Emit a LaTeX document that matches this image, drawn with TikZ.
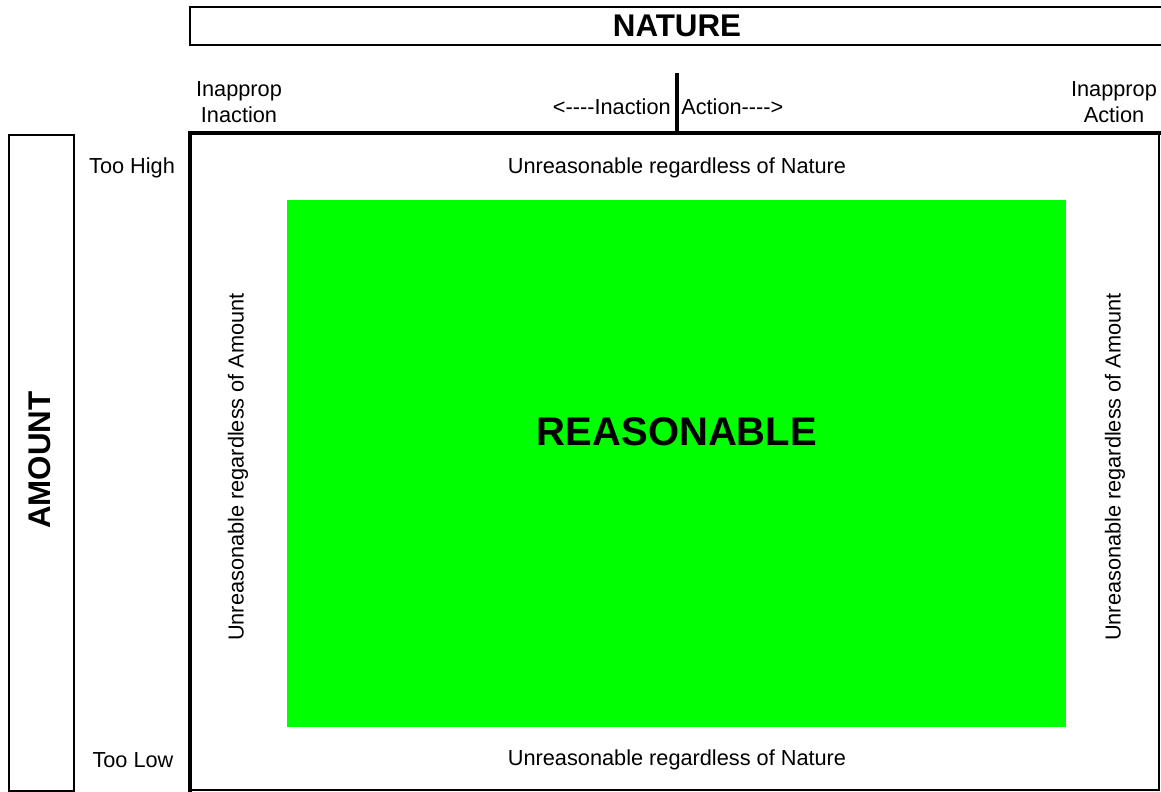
\documentclass[tikz,border=0pt]{standalone}
\usepackage{fontspec}
\setmainfont{Liberation Sans}
% four hyphens, kept apart so they stay hyphens
\newcommand{\hyph}{-\kern0pt-\kern0pt-\kern0pt-}
\begin{document}
\begin{tikzpicture}[x=0.75pt,y=-0.75pt,
    lbl/.style={font=\fontsize{16.3}{20}\selectfont,inner sep=0pt,align=center},
    big/.style={font=\bfseries\fontsize{23.5}{28}\selectfont,inner sep=0pt}]
  \useasboundingbox (0,0) rectangle (1161,792);
  % title bar, open at the right
  \draw[line width=1.9pt] (1170,7) -- (190,7) -- (190,45) -- (1170,45);
  \node[big] (nature) at (677,26) {NATURE};
  % side bar
  \draw[line width=1pt] (9,135) rectangle (74,791);
  \node[big,rotate=90] (amount) at (40,460) {AMOUNT};
  % main frame: heavy top and left, light bottom and right
  \fill[green] (287,200) rectangle (1066,727);
  \draw[line width=3pt] (190,792) -- (190,133) -- (1161,133);
  \draw[line width=1pt] (1159,133) -- (1159,790) -- (190,790);
  \draw[line width=2.4pt] (677,73) -- (677,133);
  % column headings
  \node[lbl] (inappinact) at (239,102) {Inapprop\\Inaction};
  \node[lbl] (inappact) at (1114,102) {Inapprop\\Action};
  \node[lbl,anchor=east] (inaction) at (671,107) {<\hyph Inaction};
  \node[lbl,anchor=west] (action) at (681,107) {Action\hyph>};
  % row headings
  \node[lbl] (toohigh) at (132,168) {Too High};
  \node[lbl] (toolow) at (133,760) {Too Low};
  % cells
  \node[lbl] (top) at (677,168) {Unreasonable regardless of Nature};
  \node[lbl] (bottom) at (677,760) {Unreasonable regardless of Nature};
  \node[lbl,rotate=90] (left) at (238,467) {Unreasonable regardless of Amount};
  \node[lbl,rotate=90] (right) at (1115,467) {Unreasonable regardless of Amount};
  \node[font=\bfseries\fontsize{30}{36}\selectfont,inner sep=0pt] (ok) at (677,432) {REASONABLE};
\end{tikzpicture}
\end{document}
